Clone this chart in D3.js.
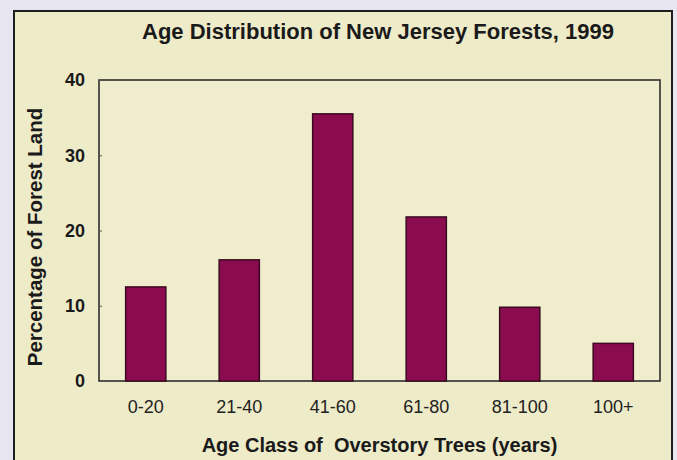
<!DOCTYPE html>
<html>
<head>
<meta charset="utf-8">
<script src="https://cdn.jsdelivr.net/npm/d3@7"></script>
<style>
  html, body { margin: 0; padding: 0; background: #e7e5ef; }
  svg { display: block; font-family: "Liberation Sans", Arial, sans-serif; }
</style>
</head>
<body>
<div id="chart"></div>
<script>
// Chart data
const ageClasses = ["0-20", "21-40", "41-60", "61-80", "81-100", "100+"];
const percentForest = [12.5, 16.1, 35.5, 21.8, 9.8, 5.0];
const yTicks = [0, 10, 20, 30, 40];

const W = 677, H = 460;
const margin = {top: 80, right: 17, bottom: 79, left: 99};
const plotW = W - margin.left - margin.right;
const plotH = H - margin.top - margin.bottom;

const svg = d3.select("#chart").append("svg")
  .attr("width", W)
  .attr("height", H);

// Outer panel
svg.append("rect")
  .attr("x", 14).attr("y", 11)
  .attr("width", 658).attr("height", 460)
  .attr("fill", "#eeebc9")
  .attr("stroke", "#1e1e1e")
  .attr("stroke-width", 2);

// Title
svg.append("text")
  .attr("x", 378).attr("y", 39)
  .attr("text-anchor", "middle")
  .attr("font-weight", "bold")
  .attr("font-size", 22)
  .attr("fill", "#1a1a1a")
  .text("Age Distribution of New Jersey Forests, 1999");

const g = svg.append("g")
  .attr("transform", `translate(${margin.left} ${margin.top})`);

const x = d3.scaleBand()
  .domain(ageClasses)
  .range([0, plotW])
  .paddingInner(0.57)
  .paddingOuter(0.285);

const y = d3.scaleLinear()
  .domain([0, 40])
  .range([plotH, 0]);

// Plot area
g.append("rect")
  .attr("width", plotW).attr("height", plotH)
  .attr("fill", "#f0edcd")
  .attr("stroke", "#222")
  .attr("stroke-width", 1.5);

// Bars
g.selectAll(".bar")
  .data(percentForest)
  .enter()
  .append("rect")
  .attr("class", "bar")
  .attr("x", (d, i) => x(ageClasses[i]))
  .attr("y", d => y(d))
  .attr("width", x.bandwidth())
  .attr("height", d => plotH - y(d))
  .attr("fill", "#8b0c4e")
  .attr("stroke", "#3b0a22")
  .attr("stroke-width", 1.5);

// Y axis
const yAxis = g.append("g")
  .call(d3.axisLeft(y).tickValues(yTicks).tickSize(-3).tickPadding(14));
yAxis.select(".domain").remove();
yAxis.selectAll("line").attr("stroke", "#555");
yAxis.selectAll("text")
  .attr("font-family", "Liberation Sans, Arial, sans-serif")
  .attr("font-size", 18)
  .attr("font-weight", "bold")
  .attr("fill", "#1a1a1a");

// X axis
const xAxis = g.append("g")
  .attr("transform", `translate(0 ${plotH})`)
  .call(d3.axisBottom(x).tickSize(0).tickPadding(19));
xAxis.select(".domain").remove();
xAxis.selectAll("text")
  .attr("font-family", "Liberation Sans, Arial, sans-serif")
  .attr("font-size", 18)
  .attr("fill", "#222");

// Axis titles
svg.append("text")
  .attr("x", margin.left + plotW / 2).attr("y", 452)
  .attr("text-anchor", "middle")
  .attr("font-weight", "bold")
  .attr("font-size", 20)
  .attr("fill", "#1a1a1a")
  .style("white-space", "pre")
  .text("Age Class of  Overstory Trees (years)");

svg.append("text")
  .attr("transform", "translate(42 237) rotate(-90)")
  .attr("text-anchor", "middle")
  .attr("font-weight", "bold")
  .attr("font-size", 20.5)
  .attr("fill", "#1a1a1a")
  .text("Percentage of Forest Land");
</script>
</body>
</html>
